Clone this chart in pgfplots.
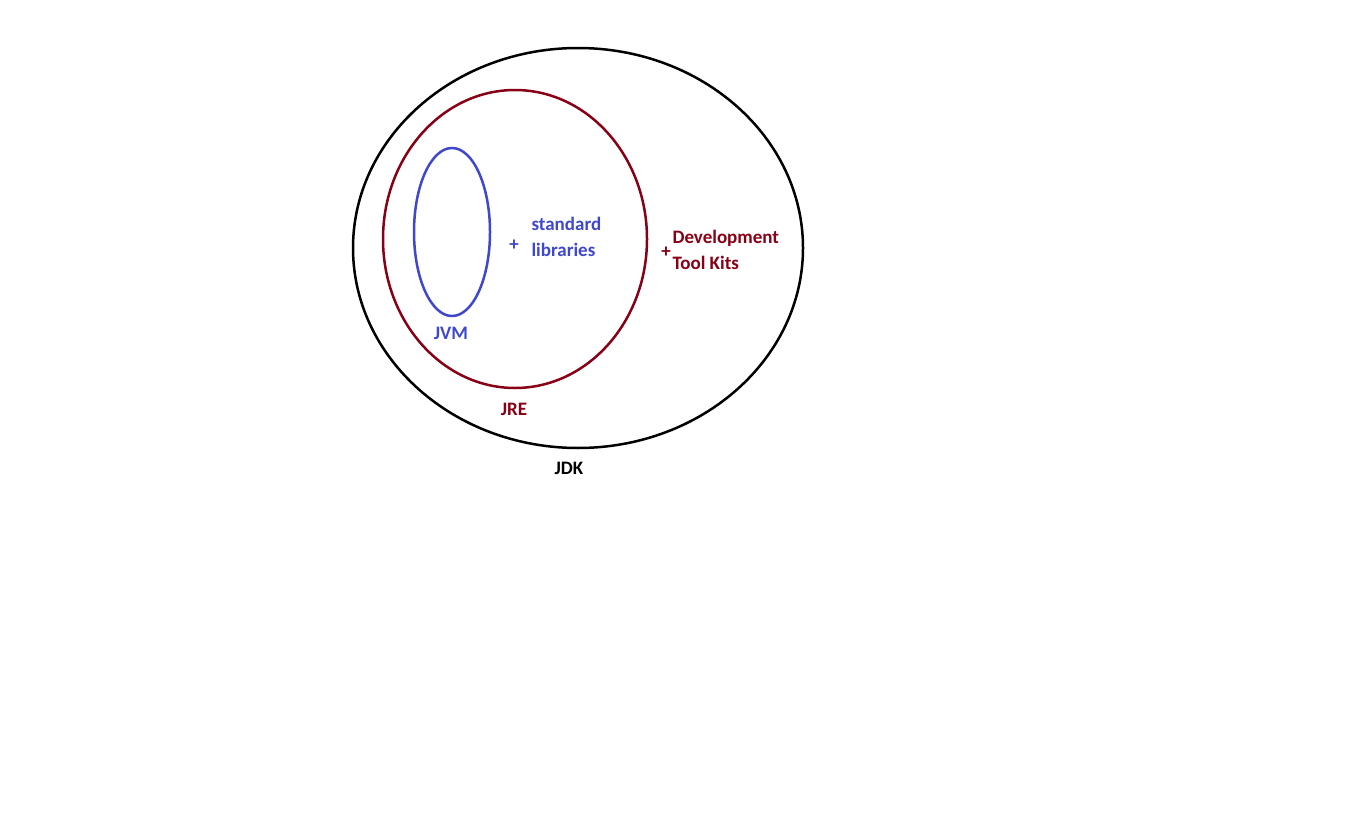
\documentclass[border=0pt]{standalone}
\usepackage{pgfplots}
\pgfplotsset{compat=1.18}
\usepackage{fontspec}
\setmainfont{Carlito}
\definecolor{jblue}{HTML}{3F48CC}
\definecolor{jred}{HTML}{880015}
\begin{document}
\begin{tikzpicture}
\useasboundingbox (0,0) rectangle (1358pt,831pt);
\begin{axis}[at={(0,0)},anchor=south west,scale only axis,width=1358pt,height=831pt,
  xmin=0,xmax=1358,ymin=0,ymax=831,y dir=reverse,axis lines=none,clip=false,
  nodes={font=\fontsize{19pt}{26pt}\selectfont\bfseries}]
\draw[black,line width=2.5pt] (axis cs:578,248) ellipse [x radius=225pt,y radius=200pt];
\draw[jred,line width=2.5pt] (axis cs:515,239) ellipse [x radius=132pt,y radius=149pt];
\draw[jblue,line width=2.5pt] (axis cs:452,232) ellipse [x radius=38pt,y radius=84pt];
\node[jblue,anchor=west,align=left] at (axis cs:528,237) {standard\\libraries};
\node[jblue] at (axis cs:514,245) {+};
\node[jred,anchor=west,align=left] at (axis cs:669,250) {Development\\Tool Kits};
\node[jred] at (axis cs:666,252) {+};
\node[jblue] at (axis cs:451,333) {JVM};
\node[jred] at (axis cs:514,409) {JRE};
\node[black] at (axis cs:569,468) {JDK};
\end{axis}
\end{tikzpicture}
\end{document}
